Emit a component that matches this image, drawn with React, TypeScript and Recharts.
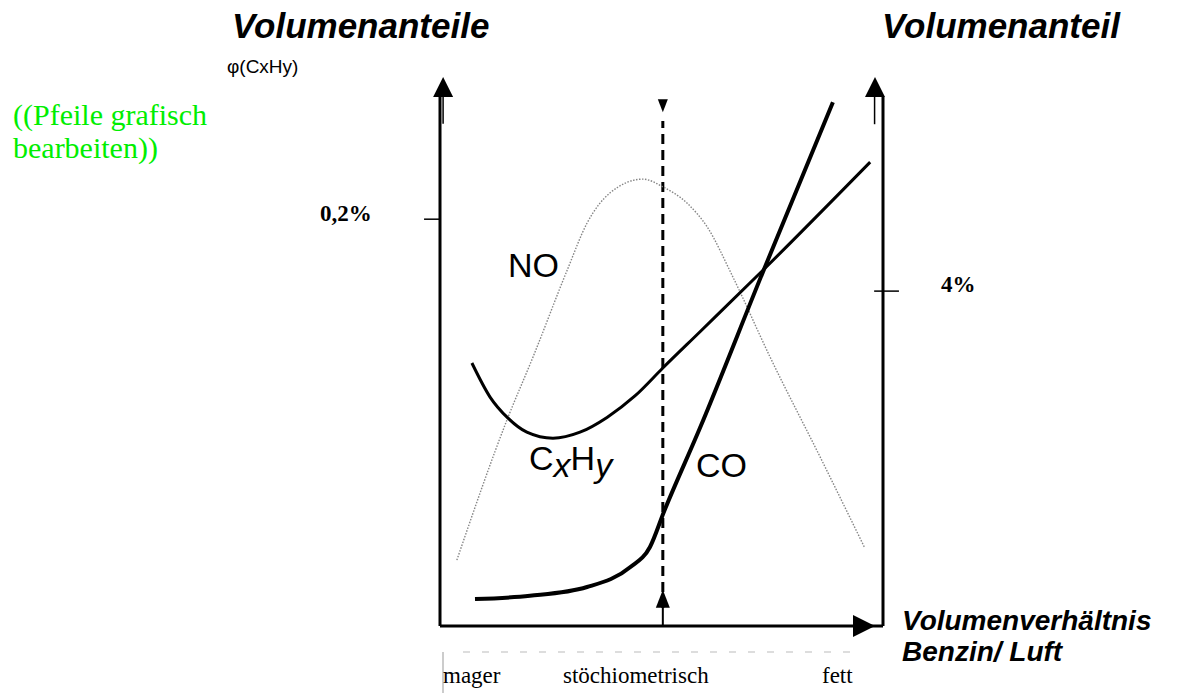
import React from 'react';
import { LineChart, Line, XAxis, YAxis, ReferenceLine, ReferenceDot } from 'recharts';

// Schematic units: x 0..100 (mager -> fett), y 0..100 (Volumenanteil)
const noData = [
  { x: 3.8, y: 12.0 }, { x: 15.3, y: 37.9 }, { x: 21.0, y: 49.0 }, { x: 28.7, y: 64.8 },
  { x: 33.2, y: 73.4 }, { x: 38.4, y: 78.9 }, { x: 45.8, y: 81.4 }, { x: 50.3, y: 80.0 },
  { x: 55.8, y: 77.0 }, { x: 60.3, y: 72.7 }, { x: 66.1, y: 63.6 }, { x: 74.5, y: 49.0 },
  { x: 85.8, y: 30.8 }, { x: 95.9, y: 14.2 },
];
const cxhyData = [
  { x: 7.2, y: 47.9 }, { x: 11.3, y: 41.7 }, { x: 15.3, y: 37.9 }, { x: 19.6, y: 35.3 },
  { x: 25.5, y: 34.2 }, { x: 31.6, y: 35.3 }, { x: 37.7, y: 38.0 }, { x: 44.0, y: 41.9 },
  { x: 50.3, y: 47.0 }, { x: 58.7, y: 53.6 }, { x: 72.9, y: 64.8 }, { x: 97.1, y: 84.5 },
];
const coData = [
  { x: 7.9, y: 4.9 }, { x: 20.3, y: 5.5 }, { x: 33.2, y: 7.1 }, { x: 42.9, y: 10.7 },
  { x: 47.4, y: 14.4 }, { x: 50.6, y: 20.9 }, { x: 58.7, y: 36.1 }, { x: 72.9, y: 64.5 },
  { x: 88.7, y: 95.4 },
];

const stoichX = 50.3;
const leftTickY = 74.1;
const rightTickY = 61.0;
const tickLabels = ['0,2%', '4%'];
const regionLabels = ['mager', 'stöchiometrisch', 'fett'];

const W = 1195;
const H = 695;
const MARGIN = { top: 77, right: 312, bottom: 69, left: 440 };

const SANS = '"Liberation Sans", Arial, Helvetica, sans-serif';
const SERIF = '"Liberation Serif", "Times New Roman", Times, serif';

type TriProps = { cx?: number; cy?: number; dir: 'up' | 'down' | 'right'; len: number; half: number };
function Tri({ cx = 0, cy = 0, dir, len, half }: TriProps) {
  let pts = '';
  if (dir === 'up') pts = `${cx},${cy} ${cx - half},${cy + len} ${cx + half},${cy + len}`;
  if (dir === 'down') pts = `${cx},${cy} ${cx - half},${cy - len} ${cx + half},${cy - len}`;
  if (dir === 'right') pts = `${cx},${cy} ${cx - len},${cy - half} ${cx - len},${cy + half}`;
  return <polygon points={pts} fill="#000" stroke="none" />;
}

export default function App() {
  return (
    <div style={{ position: 'absolute', left: 0, top: 0, width: W, height: H, background: '#fff' }}>
      <LineChart width={W} height={H} margin={MARGIN}>
        <XAxis type="number" dataKey="x" domain={[0, 100]} hide allowDataOverflow />
        <YAxis type="number" dataKey="y" domain={[0, 100]} hide allowDataOverflow />

        {/* axes */}
        <ReferenceLine segment={[{ x: 0, y: 0 }, { x: 0, y: 96.4 }]} stroke="#000" strokeWidth={3} ifOverflow="visible" />
        <ReferenceLine segment={[{ x: 0.7, y: 91.5 }, { x: 0.7, y: 96.4 }]} stroke="#000" strokeWidth={1.5} ifOverflow="visible" />
        <ReferenceLine segment={[{ x: 100, y: 0 }, { x: 100, y: 96.4 }]} stroke="#000" strokeWidth={3} ifOverflow="visible" />
        <ReferenceLine segment={[{ x: 98.1, y: 91.4 }, { x: 98.1, y: 96.4 }]} stroke="#000" strokeWidth={1.5} ifOverflow="visible" />
        <ReferenceLine segment={[{ x: 0, y: 0 }, { x: 100, y: 0 }]} stroke="#000" strokeWidth={3} ifOverflow="visible" />

        {/* ticks */}
        <ReferenceLine segment={[{ x: -3.6, y: leftTickY }, { x: 0, y: leftTickY }]} stroke="#000" strokeWidth={1.5} ifOverflow="visible" />
        <ReferenceLine segment={[{ x: 98.0, y: rightTickY }, { x: 103.6, y: rightTickY }]} stroke="#000" strokeWidth={1.5} ifOverflow="visible" />

        {/* stoichiometric dashed line */}
        <ReferenceLine segment={[{ x: stoichX, y: 3.3 }, { x: stoichX, y: 92 }]} stroke="#000" strokeWidth={3} strokeDasharray="10 6" ifOverflow="visible" />
        <ReferenceLine segment={[{ x: stoichX, y: 0 }, { x: stoichX, y: 3.3 }]} stroke="#000" strokeWidth={2} ifOverflow="visible" />

        <Line data={noData} dataKey="y" type="monotone" stroke="#858585" strokeWidth={1.4} strokeDasharray="1.5 1.5" dot={false} activeDot={false} isAnimationActive={false} />
        <Line data={cxhyData} dataKey="y" type="monotone" stroke="#000" strokeWidth={3} dot={false} activeDot={false} isAnimationActive={false} />
        <Line data={coData} dataKey="y" type="monotone" stroke="#000" strokeWidth={4} dot={false} activeDot={false} isAnimationActive={false} />

        {/* arrowheads */}
        <ReferenceDot x={0.7} y={100} r={0} ifOverflow="visible" shape={(p: any) => <Tri cx={p.cx} cy={p.cy} dir="up" len={20} half={10} />} />
        <ReferenceDot x={98.2} y={100} r={0} ifOverflow="visible" shape={(p: any) => <Tri cx={p.cx} cy={p.cy} dir="up" len={20} half={10} />} />
        <ReferenceDot x={98.2} y={0} r={0} ifOverflow="visible" shape={(p: any) => <Tri cx={p.cx} cy={p.cy} dir="right" len={22} half={11} />} />
        <ReferenceDot x={stoichX} y={93.6} r={0} ifOverflow="visible" shape={(p: any) => <Tri cx={p.cx} cy={p.cy} dir="down" len={13} half={5} />} />
        <ReferenceDot x={stoichX} y={6.6} r={0} ifOverflow="visible" shape={(p: any) => <Tri cx={p.cx} cy={p.cy} dir="up" len={18} half={7} />} />
      </LineChart>

      <svg width={W} height={H} style={{ position: 'absolute', left: 0, top: 0, pointerEvents: 'none' }}>
        <text x={232} y={38} fontFamily={SANS} fontSize={35} fontWeight="bold" fontStyle="italic">Volumenanteile</text>
        <text x={227} y={73} fontFamily={SANS} fontSize={19}>φ(CxHy)</text>
        <text x={882} y={38} fontFamily={SANS} fontSize={35} fontWeight="bold" fontStyle="italic">Volumenanteil</text>

        <text x={13} y={125} fontFamily={SERIF} fontSize={30} fill="#00ee00">((Pfeile grafisch</text>
        <text x={13} y={158} fontFamily={SERIF} fontSize={30} fill="#00ee00">bearbeiten))</text>

        <text x={320} y={221} fontFamily={SERIF} fontSize={23} fontWeight="bold">{tickLabels[0]}</text>
        <text x={941} y={292} fontFamily={SERIF} fontSize={23} fontWeight="bold">{tickLabels[1]}</text>

        <text x={508} y={277} fontFamily={SANS} fontSize={34}>NO</text>
        <text x={529} y={470} fontFamily={SANS} fontSize={34}>
          C<tspan fontStyle="italic" dy={7}>x</tspan><tspan dy={-7}>H</tspan><tspan fontStyle="italic" dy={7}>y</tspan>
        </text>
        <text x={696} y={477} fontFamily={SANS} fontSize={34}>CO</text>

        <line x1={463} y1={652} x2={858} y2={652} stroke="#bbb" strokeWidth={1} strokeDasharray="7 12" />
        <line x1={443} y1={652} x2={443} y2={693} stroke="#999" strokeWidth={1} />
        <text x={443} y={683} fontFamily={SERIF} fontSize={23}>{regionLabels[0]}</text>
        <text x={563} y={683} fontFamily={SERIF} fontSize={23}>{regionLabels[1]}</text>
        <text x={822} y={683} fontFamily={SERIF} fontSize={23}>{regionLabels[2]}</text>

        <text x={902} y={630} fontFamily={SANS} fontSize={28} fontWeight="bold" fontStyle="italic">Volumenverhältnis</text>
        <text x={902} y={661} fontFamily={SANS} fontSize={28} fontWeight="bold" fontStyle="italic">Benzin/ Luft</text>
      </svg>
    </div>
  );
}
